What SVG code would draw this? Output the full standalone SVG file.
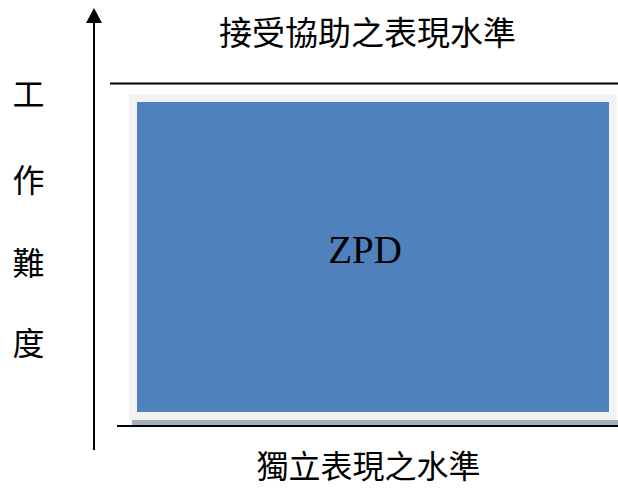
<svg xmlns="http://www.w3.org/2000/svg" width="618" height="488" viewBox="0 0 618 488">
<style>
.cjk{font-family:"Noto Sans CJK TC","Noto Sans CJK SC",sans-serif;fill:#000;}
.ln{stroke:#000;stroke-width:2;fill:none;}
</style>
<rect width="618" height="488" fill="#fff"/>
<g id="connectors">
<line class="ln" x1="94" y1="450" x2="94" y2="23"/>
<path d="M86,23 L94,8 L102,23 Z" fill="#000"/>
<line class="ln" x1="110" y1="83.5" x2="618" y2="83.5"/>
<line class="ln" x1="117" y1="426" x2="618" y2="426"/>
</g>
<g id="zpd">
<rect x="132" y="420" width="486" height="5" fill="#A3ADBB"/>
<rect x="129" y="94" width="488" height="326" fill="#F2F2F2"/>
<rect x="137" y="102" width="472" height="310" fill="#4F81BD"/>
<text x="365" y="263" text-anchor="middle" font-family="'Liberation Serif',serif" font-size="39" fill="#000">ZPD</text>
</g>
<g id="top-label">
<text class="cjk" x="367.5" y="45" text-anchor="middle" font-size="33">接受協助之表現水準</text>
</g>
<g id="bottom-label">
<text class="cjk" x="368.5" y="478" text-anchor="middle" font-size="32">獨立表現之水準</text>
</g>
<g id="y-label">
<text class="cjk" x="28.5" y="106" text-anchor="middle" font-size="32">工</text>
<text class="cjk" x="28.5" y="192" text-anchor="middle" font-size="32">作</text>
<text class="cjk" x="28.5" y="275" text-anchor="middle" font-size="32">難</text>
<text class="cjk" x="28.5" y="355" text-anchor="middle" font-size="32">度</text>
</g>
</svg>
